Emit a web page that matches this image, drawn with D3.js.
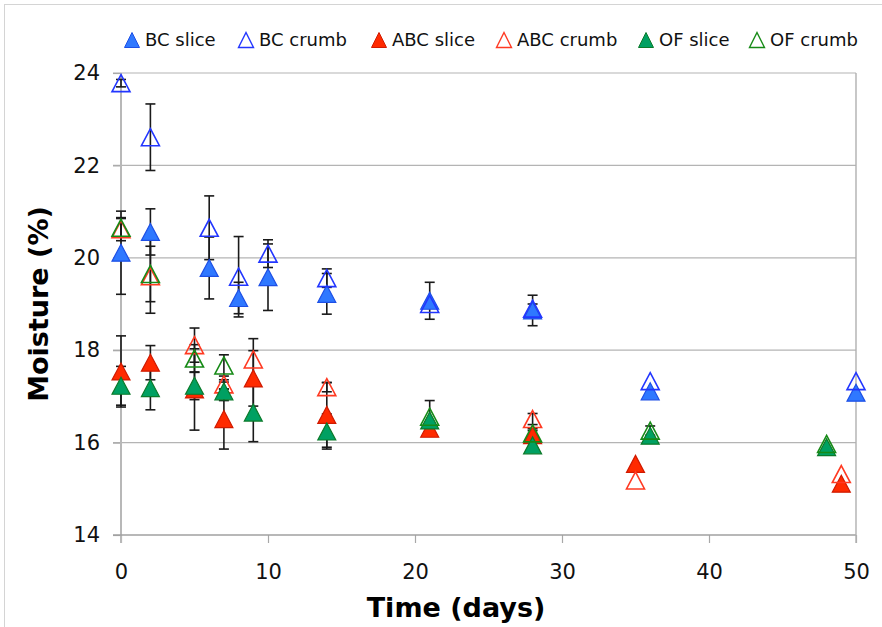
<!DOCTYPE html>
<html>
<head>
<meta charset="utf-8">
<script src="https://cdn.jsdelivr.net/npm/d3@7/dist/d3.min.js"></script>
<style>
  html, body { margin: 0; padding: 0; background: #fff; }
  svg { display: block; font-family: "DejaVu Sans", Verdana, sans-serif; }
</style>
</head>
<body>
<svg id="chart" width="882" height="627"></svg>
<script>
// Moisture of bread slices and crumb over storage time
const seriesNames = ["BC slice", "BC crumb", "ABC slice", "ABC crumb", "OF slice", "OF crumb"];

const bcSliceDays  = [0, 2, 6, 8, 10, 14, 21, 28, 36, 50];
const bcSliceVals  = [20.11, 20.56, 19.78, 19.13, 19.58, 19.22, 19.07, 18.86, 17.11, 17.08];
const bcSliceErr   = [0.9, 0.5, 0.67, 0.34, 0.72, 0.44, 0.4, 0.33, 0, 0];

const bcCrumbDays  = [0, 2, 6, 8, 10, 14, 21, 28, 36, 50];
const bcCrumbVals  = [23.78, 22.61, 20.65, 19.59, 20.09, 19.56, 19.0, 18.9, 17.33, 17.33];
const bcCrumbErr   = [0.08, 0.72, 0.69, 0.87, 0.3, 0.2, 0, 0.1, 0, 0];

const abcSliceDays = [0, 2, 5, 7, 9, 14, 21, 28, 35, 49];
const abcSliceVals = [17.54, 17.73, 17.15, 16.51, 17.39, 16.6, 16.3, 16.16, 15.54, 15.11];
const abcSliceErr  = [0.77, 0.37, 0.88, 0.65, 0.6, 0.7, 0, 0.1, 0, 0];

const abcCrumbDays = [0, 2, 5, 7, 9, 14, 28, 35, 49];
const abcCrumbVals = [20.62, 19.6, 18.11, 17.26, 17.8, 17.2, 16.51, 15.18, 15.32];
const abcCrumbErr  = [0.25, 0.8, 0.37, 0.1, 0.45, 0.1, 0.12, 0, 0];

const ofSliceDays  = [0, 2, 5, 7, 9, 14, 21, 28, 36, 48];
const ofSliceVals  = [17.23, 17.18, 17.23, 17.11, 16.65, 16.24, 16.48, 15.94, 16.15, 15.9];
const ofSliceErr   = [0.42, 0.47, 0.3, 0.2, 0.63, 0.38, 0, 0.1, 0, 0];

const ofCrumbDays  = [0, 2, 5, 7, 21, 28, 36, 48];
const ofCrumbVals  = [20.65, 19.65, 17.82, 17.67, 16.56, 16.2, 16.26, 15.97];
const ofCrumbErr   = [0.2, 0.6, 0.3, 0.23, 0.35, 0.1, 0.1, 0];

const xTicks = [0, 10, 20, 30, 40, 50];
const yTicks = [14, 16, 18, 20, 22, 24];

const styles = [
  { fill: "#2f78ff", stroke: "#1d4fe6", hollow: false },
  { fill: "none",    stroke: "#2236ff", hollow: true },
  { fill: "#ff2a00", stroke: "#d01a00", hollow: false },
  { fill: "none",    stroke: "#ff3a22", hollow: true },
  { fill: "#00a062", stroke: "#0b7a2a", hollow: false },
  { fill: "none",    stroke: "#168a16", hollow: true }
];

const raw = [
  [bcSliceDays, bcSliceVals, bcSliceErr],
  [bcCrumbDays, bcCrumbVals, bcCrumbErr],
  [abcSliceDays, abcSliceVals, abcSliceErr],
  [abcCrumbDays, abcCrumbVals, abcCrumbErr],
  [ofSliceDays, ofSliceVals, ofSliceErr],
  [ofCrumbDays, ofCrumbVals, ofCrumbErr]
];
const series = raw.map(([d, v, e], i) => ({
  name: seriesNames[i],
  style: styles[i],
  points: d.map((day, j) => ({ day, val: v[j], err: e[j] }))
}));

const svg = d3.select("#chart");

// outer frame
svg.append("rect").attr("x", 4.5).attr("y", 4.5).attr("width", 900).attr("height", 700)
  .attr("fill", "none").attr("stroke", "#d4d4d4").attr("stroke-width", 1);

const plotL = 121, plotR = 856, plotT = 73, plotB = 535;
const x = d3.scaleLinear().domain([0, 50]).range([plotL, plotR]);
const y = d3.scaleLinear().domain([14, 24]).range([plotB, plotT]);

// horizontal gridlines with outward ticks
const grid = svg.append("g");
grid.selectAll("line").data(yTicks.filter(t => t > 14)).join("line")
  .attr("x1", plotL - 8).attr("x2", plotR)
  .attr("y1", d => y(d)).attr("y2", d => y(d))
  .attr("stroke", "#b4b4b4").attr("stroke-width", 1.2);

// y axis
const yAxis = svg.append("g").attr("transform", `translate(${plotL},0)`)
  .call(d3.axisLeft(y).tickValues(yTicks).tickSize(8).tickPadding(13));
yAxis.select(".domain").remove();
yAxis.selectAll(".tick line").attr("stroke", "#a8a8a8").attr("stroke-width", 1.2);
yAxis.selectAll(".tick text").attr("font-size", 21).attr("fill", "#111")
  .attr("font-family", "DejaVu Sans, Verdana, sans-serif");

// x axis
const xAxis = svg.append("g").attr("transform", `translate(0,${plotB})`)
  .call(d3.axisBottom(x).tickValues(xTicks).tickSize(8).tickPadding(21));
xAxis.select(".domain").remove();
xAxis.selectAll(".tick line").attr("stroke", "#a8a8a8").attr("stroke-width", 1.2);
xAxis.selectAll(".tick text").attr("font-size", 21).attr("fill", "#111")
  .attr("font-family", "DejaVu Sans, Verdana, sans-serif");

// plot frame: left, bottom, right
svg.append("line").attr("x1", plotL).attr("x2", plotL).attr("y1", plotT).attr("y2", plotB + 8)
  .attr("stroke", "#b8b8b8").attr("stroke-width", 2);
svg.append("line").attr("x1", plotL - 8).attr("x2", plotR).attr("y1", plotB).attr("y2", plotB)
  .attr("stroke", "#a0a0a0").attr("stroke-width", 1.4);
svg.append("line").attr("x1", plotR).attr("x2", plotR).attr("y1", plotT).attr("y2", plotB + 8)
  .attr("stroke", "#b0b0b0").attr("stroke-width", 1.4);

// error bars behind markers
const eb = svg.append("g").attr("stroke", "#1a1a1a").attr("stroke-width", 1.6);
series.forEach(s => {
  s.points.filter(p => p.err > 0).forEach(p => {
    const cx = x(p.day), y1 = y(p.val + p.err), y2 = y(p.val - p.err);
    eb.append("line").attr("x1", cx).attr("x2", cx).attr("y1", y1).attr("y2", y2);
    eb.append("line").attr("x1", cx - 5).attr("x2", cx + 5).attr("y1", y1).attr("y2", y1);
    eb.append("line").attr("x1", cx - 5).attr("x2", cx + 5).attr("y1", y2).attr("y2", y2);
  });
});

// triangle marker centred on its bounding box
const tri = (w, h) => `M0,${-h / 2}L${w / 2},${h / 2}L${-w / 2},${h / 2}Z`;

const marks = svg.append("g");
series.forEach(s => {
  marks.append("g").selectAll("path").data(s.points).join("path")
    .attr("d", tri(18, 17))
    .attr("transform", p => `translate(${x(p.day)},${y(p.val)})`)
    .attr("fill", s.style.fill)
    .attr("stroke", s.style.stroke)
    .attr("stroke-width", s.style.hollow ? 1.6 : 1.2)
    .attr("stroke-linejoin", "miter");
});

// legend
const legendTri = [132, 246, 379, 504, 646, 757];
const legend = svg.append("g");
series.forEach((s, i) => {
  const g = legend.append("g").attr("transform", `translate(${legendTri[i]},40)`);
  g.append("path").attr("d", tri(15, 15))
    .attr("fill", s.style.fill).attr("stroke", s.style.stroke)
    .attr("stroke-width", s.style.hollow ? 1.4 : 1);
  g.append("text").attr("x", 13).attr("y", 0).attr("dy", "0.36em")
    .attr("font-size", 18).attr("fill", "#111").text(s.name);
});

// axis titles
svg.append("text").attr("x", 456).attr("y", 617)
  .attr("text-anchor", "middle").attr("font-size", 27).attr("font-weight", "bold")
  .attr("fill", "#000").text("Time (days)");
svg.append("text")
  .attr("transform", `translate(48,${(plotT + plotB) / 2}) rotate(-90)`)
  .attr("text-anchor", "middle").attr("font-size", 27).attr("font-weight", "bold")
  .attr("fill", "#000").text("Moisture (%)");
</script>
</body>
</html>
